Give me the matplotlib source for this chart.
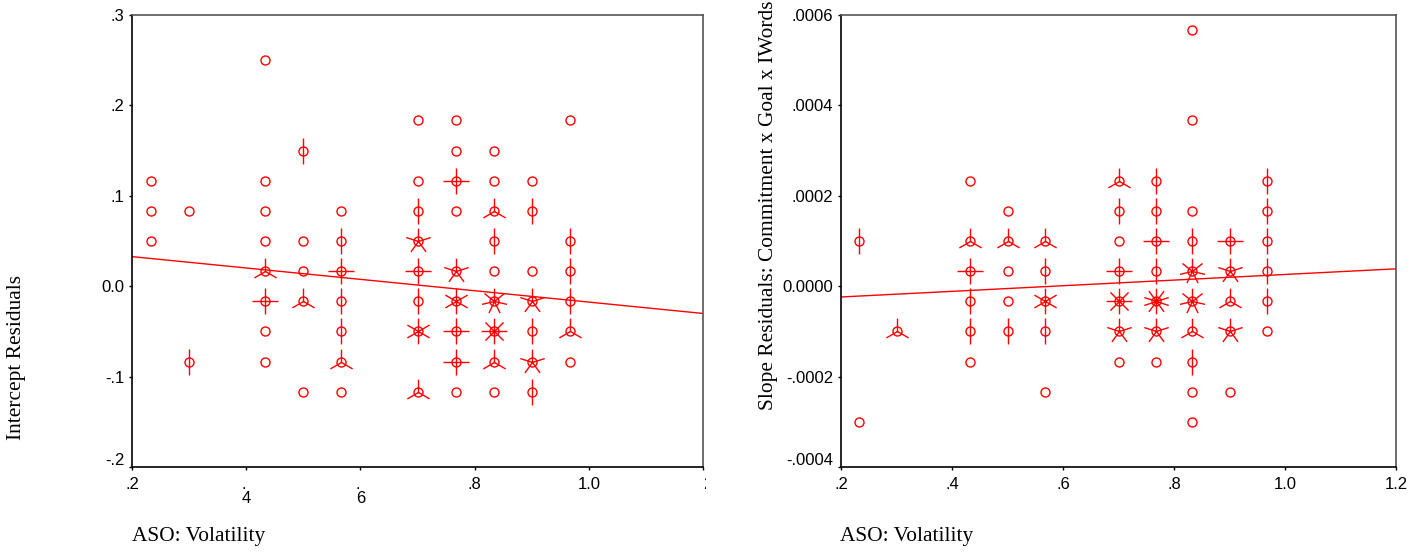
import numpy as np
import matplotlib
matplotlib.use('Agg')
import matplotlib.pyplot as plt
from matplotlib.path import Path
from matplotlib.transforms import Bbox, ScaledTranslation

plt.rcParams['font.family'] = 'Liberation Sans'

# left panel: intercept residuals, one sunflower per (x, y), n = number of obs
x_int = [0.2333, 0.2333, 0.2333,
         0.3, 0.3,
         0.4333, 0.4333, 0.4333, 0.4333, 0.4333, 0.4333, 0.4333, 0.4333,
         0.5, 0.5, 0.5, 0.5, 0.5,
         0.5667, 0.5667, 0.5667, 0.5667, 0.5667, 0.5667, 0.5667,
         0.7, 0.7, 0.7, 0.7, 0.7, 0.7, 0.7, 0.7,
         0.7667, 0.7667, 0.7667, 0.7667, 0.7667, 0.7667, 0.7667, 0.7667, 0.7667,
         0.8333, 0.8333, 0.8333, 0.8333, 0.8333, 0.8333, 0.8333, 0.8333, 0.8333,
         0.9, 0.9, 0.9, 0.9, 0.9, 0.9, 0.9,
         0.9667, 0.9667, 0.9667, 0.9667, 0.9667, 0.9667]
y_int = [0.1167, 0.0833, 0.05,
         0.0833, -0.0833,
         0.25, 0.1167, 0.0833, 0.05, 0.0167, -0.0167, -0.05, -0.0833,
         0.15, 0.05, 0.0167, -0.0167, -0.1167,
         0.0833, 0.05, 0.0167, -0.0167, -0.05, -0.0833, -0.1167,
         0.1833, 0.1167, 0.0833, 0.05, 0.0167, -0.0167, -0.05, -0.1167,
         0.1833, 0.15, 0.1167, 0.0833, 0.0167, -0.0167, -0.05, -0.0833, -0.1167,
         0.15, 0.1167, 0.0833, 0.05, 0.0167, -0.0167, -0.05, -0.0833, -0.1167,
         0.1167, 0.0833, 0.0167, -0.0167, -0.05, -0.0833, -0.1167,
         0.1833, 0.05, 0.0167, -0.0167, -0.05, -0.0833]
n_int = [1, 1, 1,
         1, 2,
         1, 1, 1, 1, 3, 4, 1, 1,
         2, 1, 1, 3, 1,
         1, 2, 4, 2, 2, 3, 1,
         1, 1, 2, 5, 4, 2, 6, 3,
         1, 1, 4, 1, 5, 6, 4, 4, 1,
         1, 1, 3, 2, 1, 7, 8, 3, 1,
         1, 2, 1, 5, 2, 5, 2,
         1, 2, 2, 2, 3, 1]

# right panel: slope residuals
x_slp = [0.2333, 0.2333,
         0.3,
         0.4333, 0.4333, 0.4333, 0.4333, 0.4333, 0.4333,
         0.5, 0.5, 0.5, 0.5, 0.5,
         0.5667, 0.5667, 0.5667, 0.5667, 0.5667,
         0.7, 0.7, 0.7, 0.7, 0.7, 0.7, 0.7,
         0.7667, 0.7667, 0.7667, 0.7667, 0.7667, 0.7667, 0.7667,
         0.8333, 0.8333, 0.8333, 0.8333, 0.8333, 0.8333, 0.8333, 0.8333, 0.8333, 0.8333,
         0.9, 0.9, 0.9, 0.9, 0.9,
         0.9667, 0.9667, 0.9667, 0.9667, 0.9667, 0.9667]
y_slp = [0.0001, -0.0003,
         -0.0001,
         0.000233, 0.0001, 0.0000333, -0.0000333, -0.0001, -0.000167,
         0.000167, 0.0001, 0.0000333, -0.0000333, -0.0001,
         0.0001, 0.0000333, -0.0000333, -0.0001, -0.000233,
         0.000233, 0.000167, 0.0001, 0.0000333, -0.0000333, -0.0001, -0.000167,
         0.000233, 0.000167, 0.0001, 0.0000333, -0.0000333, -0.0001, -0.000167,
         0.000567, 0.000367, 0.000167, 0.0001, 0.0000333, -0.0000333, -0.0001,
         -0.000167, -0.000233, -0.0003,
         0.0001, 0.0000333, -0.0000333, -0.0001, -0.000233,
         0.000233, 0.000167, 0.0001, 0.0000333, -0.0000333, -0.0001]
n_slp = [2, 1,
         3,
         1, 3, 4, 2, 2, 1,
         1, 3, 1, 1, 2,
         3, 2, 6, 2, 1,
         3, 2, 1, 4, 8, 5, 1,
         2, 2, 4, 2, 10, 5, 1,
         1, 1, 1, 2, 7, 7, 3, 2, 1, 1,
         4, 5, 3, 5, 1,
         2, 2, 2, 2, 2, 1]

RED = '#ff0000'


def petal_marker(n):
    ang = np.deg2rad(90 + 360.0 / n * np.arange(n))
    verts, codes = [], []
    for a in ang:
        verts += [(0, 0), (np.cos(a), np.sin(a))]
        codes += [Path.MOVETO, Path.LINETO]
    return Path(verts, codes)


def sunflower(ax, x, y, n):
    x, y, n = np.asarray(x), np.asarray(y), np.asarray(n)
    ax.plot(x, y, ls='none', marker='o', ms=6.5, mfc='none', mec=RED, mew=1.0)
    for k in np.unique(n[n > 1]):
        m = n == k
        ax.plot(x[m], y[m], ls='none', marker=petal_marker(k), ms=18.5,
                mfc='none', mec=RED, mew=1.0)
    # OLS line on all observations
    coef = np.polyfit(x, y, 1, w=np.sqrt(n))
    xx = np.array(ax.get_xlim())
    ax.plot(xx, np.polyval(coef, xx), color=RED, lw=1.0)


def style(ax):
    for s in ['left', 'bottom']:
        ax.spines[s].set_linewidth(1.2)
        ax.spines[s].set_color('black')
    for s in ['top', 'right']:
        ax.spines[s].set_linewidth(1.2)
        ax.spines[s].set_color('#555555')
    ax.tick_params(direction='out', length=2.5, width=1.0, labelsize=12,
                   top=False, right=False)
    ax.tick_params(axis='x', pad=4.5)
    ax.tick_params(axis='y', pad=3)


fig = plt.figure(figsize=(14.26, 5.54), dpi=100)
ax1 = fig.add_axes([132 / 1426, 87 / 554, 571 / 1426, 452 / 554])
ax2 = fig.add_axes([841 / 1426, 87 / 554, 555 / 1426, 452 / 554])

ax1.set_xlim(0.2, 1.2)
ax1.set_ylim(-0.2, 0.3)
ax2.set_xlim(0.2, 1.2)
ax2.set_ylim(-0.0004, 0.0006)

sunflower(ax1, x_int, y_int, n_int)
sunflower(ax2, x_slp, y_slp, n_slp)

for ax in (ax1, ax2):
    style(ax)

ax1.set_xticks([0.2, 0.4, 0.6, 0.8, 1.0, 1.2])
ax1.set_xticklabels(['.2', '.\n4', '.\n6', '.8', '1.0', '2'], linespacing=0.95)
for lab in ax1.get_xticklabels()[1:3]:
    lab.set_multialignment('left')
ax1.set_yticks([-0.2, -0.1, 0.0, 0.1, 0.2, 0.3])
ax1.set_yticklabels(['-.2', '-.1', '0.0', '.1', '.2', '.3'])
last = ax1.get_xticklabels()[-1]
last.set_ha('left')
last.set_clip_box(Bbox([[0, 0], [706, 554]]))
last.set_clip_on(True)

ax2.set_xticks([0.2, 0.4, 0.6, 0.8, 1.0, 1.2])
ax2.set_xticklabels(['.2', '.4', '.6', '.8', '1.0', '1.2'])
ax2.set_yticks([-0.0004, -0.0002, 0.0, 0.0002, 0.0004, 0.0006])
ax2.set_yticklabels(['-.0004', '-.0002', '0.0000', '.0002', '.0004', '.0006'])

# bottom y labels sit a little above their tick
for ax in (ax1, ax2):
    lab = ax.get_yticklabels()[0]
    lab.set_transform(lab.get_transform() + ScaledTranslation(0, 0.08, fig.dpi_scale_trans))

serif = dict(family='Liberation Serif', fontsize=15.4)
fig.text(132 / 1426, 18 / 554, 'ASO: Volatility', ha='left', va='center', **serif)
fig.text(840 / 1426, 18 / 554, 'ASO: Volatility', ha='left', va='center', **serif)
fig.text(17 / 1426, 114 / 554, 'Intercept Residuals', rotation=90,
         ha='center', va='bottom', **serif)
fig.text(768 / 1426, 144 / 554, 'Slope Residuals: Commitment x Goal x IWords',
         rotation=90, ha='center', va='bottom', **serif)

fig.savefig('out.png', dpi=100, facecolor='white')
